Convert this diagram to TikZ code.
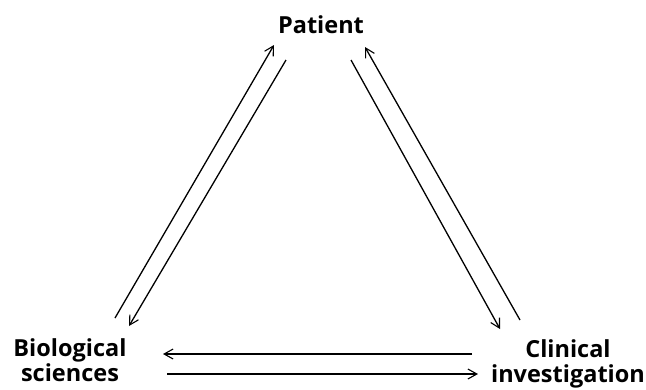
\documentclass[tikz,border=0pt]{standalone}
\usepackage{fontspec}
\setmainfont{Open Sans}
\usetikzlibrary{arrows.meta}
\begin{document}
\begin{tikzpicture}[x=1pt,y=-1pt,
  lbl/.style={font=\bfseries\fontsize{23.5}{24.5}\selectfont, align=center, inner sep=0pt},
  arr/.style={line width=1.3pt, -{Straight Barb[length=9pt,width=10pt,line width=1.1pt]}}]
\useasboundingbox (0,0) rectangle (646,389);
\node[lbl, anchor=base] (pat) at (321,33) {Patient};
\node[lbl, anchor=base] (bio) at (70,381) {Biological\\sciences};
\node[lbl, anchor=base] (cli) at (568,382) {Clinical\\investigation};
\coordinate (a1) at (115,318); \coordinate (a2) at (274,45);
\coordinate (b1) at (286,60); \coordinate (b2) at (129,326);
\coordinate (c1) at (351,60); \coordinate (c2) at (500,329);
\coordinate (d1) at (520,320); \coordinate (d2) at (365,47);
\coordinate (e1) at (472,354); \coordinate (e2) at (163,354);
\coordinate (f1) at (167,374); \coordinate (f2) at (478,374);
\draw[arr] (a1) -- (a2);
\draw[arr] (b1) -- (b2);
\draw[arr] (c1) -- (c2);
\draw[arr] (d1) -- (d2);
\draw[arr] (e1) -- (e2);
\draw[arr] (f1) -- (f2);
\end{tikzpicture}
\end{document}
